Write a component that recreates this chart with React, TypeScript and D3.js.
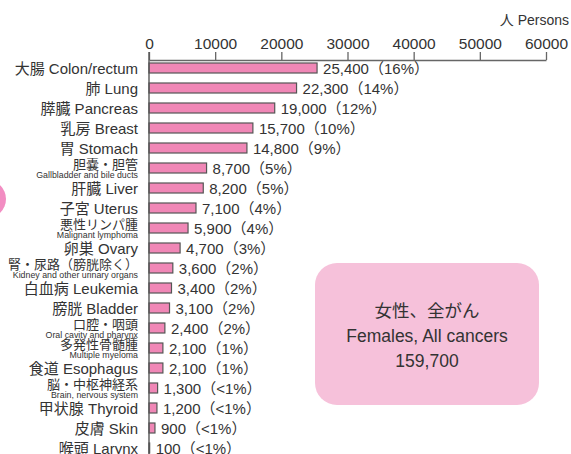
import React, { useEffect, useRef } from "react";
import * as d3 from "d3";

const jpNames = ["大腸", "肺", "膵臓", "乳房", "胃", "胆嚢・胆管", "肝臓", "子宮", "悪性リンパ腫", "卵巣", "腎・尿路（膀胱除く）", "白血病", "膀胱", "口腔・咽頭", "多発性骨髄腫", "食道", "脳・中枢神経系", "甲状腺", "皮膚", "喉頭"];
const enNames = ["Colon/rectum", "Lung", "Pancreas", "Breast", "Stomach", "Gallbladder and bile ducts", "Liver", "Uterus", "Malignant lymphoma", "Ovary", "Kidney and other urinary organs", "Leukemia", "Bladder", "Oral cavity and pharynx", "Multiple myeloma", "Esophagus", "Brain, nervous system", "Thyroid", "Skin", "Larynx"];
// labels that use two lines (japanese on top, small english below)
const twoLine = [false, false, false, false, false, true, false, false, true, false, true, false, false, true, true, false, true, false, false, false];
const counts = [25400, 22300, 19000, 15700, 14800, 8700, 8200, 7100, 5900, 4700, 3600, 3400, 3100, 2400, 2100, 2100, 1300, 1200, 900, 100];
const shares = ["16%", "14%", "12%", "10%", "9%", "5%", "5%", "4%", "4%", "3%", "2%", "2%", "2%", "2%", "1%", "1%", "<1%", "<1%", "<1%", "<1%"];
const xTicks = [0, 10000, 20000, 30000, 40000, 50000, 60000];
const boxLines = ["女性、全がん", "Females, All cancers", "159,700"];

const FONT = "'Liberation Sans', Arial, 'Noto Sans CJK JP', sans-serif";

export default function App() {
  const ref = useRef<SVGSVGElement>(null);

  useEffect(() => {
    const svg = d3.select(ref.current);
    svg.selectAll("*").remove();

    const x = d3.scaleLinear().domain([0, 60000]).range([149, 546]);
    const y = d3.scaleBand<number>()
      .domain(d3.range(counts.length))
      .range([58, 458])
      .paddingInner(0.5)
      .paddingOuter(0.25);

    // decorative pink circles cut off at the left edge
    svg.append("circle").attr("cx", -13).attr("cy", 199).attr("r", 19).attr("fill", "#f28dc2");
    svg.append("circle").attr("cx", -13).attr("cy", 472).attr("r", 19).attr("fill", "#f28dc2");

    // unit
    svg.append("text")
      .attr("x", 569).attr("y", 25)
      .attr("text-anchor", "end")
      .attr("font-size", 14).attr("fill", "#333")
      .text("人 Persons");

    // top axis
    const axis = svg.append("g")
      .attr("transform", "translate(0,60)")
      .call(d3.axisTop(x).tickValues(xTicks).tickSize(8).tickSizeOuter(0).tickFormat(d3.format("d")));
    axis.select(".domain").attr("stroke", "#666").attr("stroke-width", 1.3);
    axis.selectAll(".tick line").attr("stroke", "#666").attr("stroke-width", 1.3);
    axis.selectAll(".tick text")
      .attr("y", -11)
      .attr("font-size", 15.5).attr("fill", "#333")
      .attr("font-family", FONT);

    // bars
    svg.selectAll("rect.bar")
      .data(counts)
      .enter()
      .append("rect")
      .attr("class", "bar")
      .attr("x", x(0))
      .attr("y", (d, i) => y(i)!)
      .attr("width", (d) => x(d) - x(0))
      .attr("height", y.bandwidth())
      .attr("fill", "#f087b6")
      .attr("stroke", "#555")
      .attr("stroke-width", 1.2);

    // vertical axis line
    svg.append("line")
      .attr("x1", x(0)).attr("x2", x(0))
      .attr("y1", 52).attr("y2", 454)
      .attr("stroke", "#555").attr("stroke-width", 1.4);

    // value labels
    svg.selectAll("text.val")
      .data(counts)
      .enter()
      .append("text")
      .attr("class", "val")
      .attr("x", (d) => x(d) + 6)
      .attr("y", (d, i) => y(i)! + y.bandwidth() / 2 + 5.5)
      .attr("font-size", 15).attr("fill", "#333")
      .text((d, i) => d3.format(",")(d) + "（" + shares[i] + "）");

    // category labels
    const cat = svg.selectAll("g.cat")
      .data(counts)
      .enter()
      .append("g")
      .attr("class", "cat")
      .attr("transform", (d, i) => `translate(138,${y(i)! + y.bandwidth() / 2})`);

    cat.each(function (d, i) {
      const g = d3.select(this);
      if (twoLine[i]) {
        g.append("text")
          .attr("y", 0.5)
          .attr("text-anchor", "end")
          .attr("font-size", 13).attr("fill", "#333")
          .text(jpNames[i]);
        g.append("text")
          .attr("y", 9.5)
          .attr("text-anchor", "end")
          .attr("font-size", 8.8).attr("fill", "#333")
          .text(enNames[i]);
      } else {
        g.append("text")
          .attr("y", 5.5)
          .attr("text-anchor", "end")
          .attr("font-size", 15).attr("fill", "#333")
          .text(jpNames[i] + " " + enNames[i]);
      }
    });

    // total box
    svg.append("rect")
      .attr("x", 315).attr("y", 263)
      .attr("width", 224).attr("height", 142)
      .attr("rx", 22)
      .attr("fill", "#f6c1da");
    svg.selectAll("text.box")
      .data(boxLines)
      .enter()
      .append("text")
      .attr("class", "box")
      .attr("x", 427)
      .attr("y", (d, i) => 317 + i * 25)
      .attr("text-anchor", "middle")
      .attr("font-size", 17.5).attr("fill", "#333")
      .text((d) => d);
  }, []);

  return (
    <svg
      ref={ref}
      width={571}
      height={454}
      style={{ position: "absolute", left: 0, top: 0, fontFamily: FONT, background: "#fff" }}
    />
  );
}
